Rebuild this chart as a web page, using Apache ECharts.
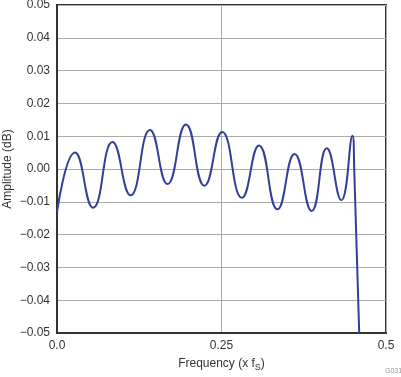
<!DOCTYPE html>
<html>
<head>
<meta charset="utf-8">
<script src="https://cdn.jsdelivr.net/npm/echarts@6/dist/echarts.min.js"></script>
<style>
html,body{margin:0;padding:0;background:#fff;}
#chart{width:401px;height:377px;}
</style>
</head>
<body>
<div id="chart"></div>
<script>
// frequency (x fS) and amplitude (dB): extremes plus the end roll-off
let freq = [0, 0.0274, 0.0549, 0.0843, 0.1118, 0.1413, 0.168, 0.196, 0.224, 0.251, 0.281, 0.307, 0.335, 0.361, 0.387, 0.410, 0.432, 0.449, 0.4517, 0.4593];
let amp = [-0.0131, 0.0050, -0.0118, 0.0082, -0.0080, 0.0119, -0.0046, 0.0136, -0.0051, 0.0113, -0.0088, 0.0072, -0.0123, 0.0046, -0.0128, 0.0063, -0.0095, 0.0101, 0.0, -0.05];
let xTicks = {0: "0.0", 0.25: "0.25", 0.5: "0.5"};

let font = "Liberation Sans";
let chart = echarts.init(document.getElementById("chart"));
let pts = freq.map((f, i) => [f, amp[i]]);

let opt = {
	animation: false,
	grid: {left: 57, top: 5, right: 15, bottom: 44, containLabel: false, outerBoundsMode: "none",
		show: true, borderColor: "#333", borderWidth: 2},
	xAxis: {
		type: "value", min: 0, max: 0.5, interval: 0.25,
		name: "Frequency (x f{sub|S})", nameLocation: "middle", nameGap: 22,
		nameTextStyle: {color: "#333", fontFamily: font, fontSize: 12,
			rich: {sub: {fontSize: 9, fontFamily: font, color: "#333", padding: [8, 0, 0, 0]}}},
		axisLine: {show: true, onZero: false, lineStyle: {color: "#333", width: 2}},
		axisTick: {show: false},
		axisLabel: {color: "#333", fontFamily: font, fontSize: 12, margin: 7,
			formatter: v => xTicks[v] !== undefined ? xTicks[v] : ""},
		splitLine: {show: true, lineStyle: {color: "#aaa", width: 1}}
	},
	yAxis: {
		type: "value", min: -0.05, max: 0.05, interval: 0.01,
		name: "Amplitude (dB)", nameLocation: "middle", nameGap: 43, nameMoveOverlap: false,
		nameTextStyle: {color: "#333", fontFamily: font, fontSize: 12},
		axisLine: {show: true, onZero: false, lineStyle: {color: "#333", width: 2}},
		axisTick: {show: false},
		axisLabel: {color: "#333", fontFamily: font, fontSize: 12, margin: 7,
			formatter: v => Math.abs(v) < 1e-9 ? "0.00" : v.toFixed(2).replace("-", "\u2212")},
		splitLine: {show: true, lineStyle: {color: "#aaa", width: 1}}
	},
	series: [{
		type: "line", data: pts, smooth: 0.5, showSymbol: false, clip: true,
		lineStyle: {color: "#333f99", width: 2}
	}],
	graphic: [{type: "text", left: 385, top: 368, style: {text: "G031", fontSize: 7, fontFamily: font, fill: "#999"}}]
};
chart.setOption(opt);
</script>
</body>
</html>
